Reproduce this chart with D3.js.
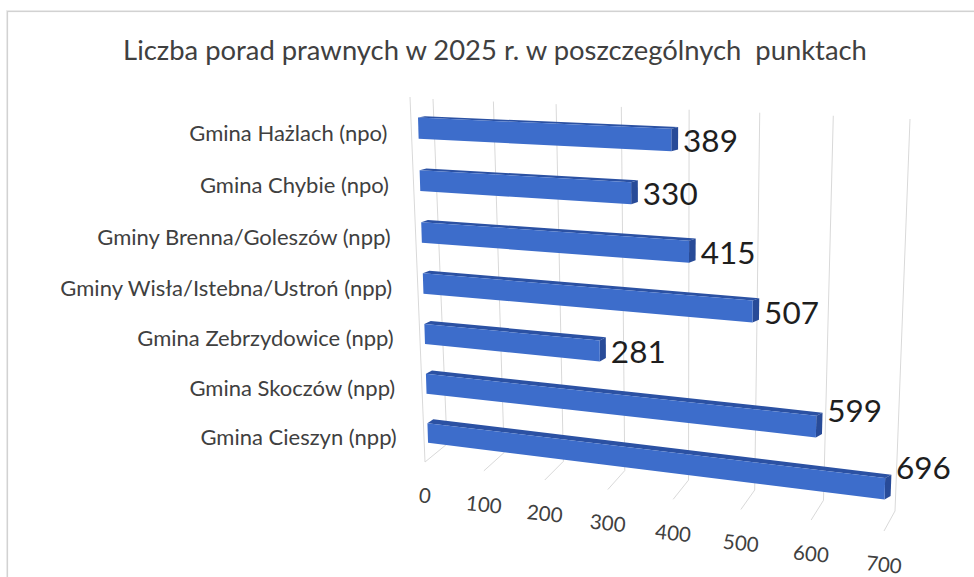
<!DOCTYPE html>
<html><head><meta charset="utf-8">
<script src="https://cdn.jsdelivr.net/npm/d3@7"></script>
<style>
html,body{margin:0;padding:0;background:#fff;}
svg{display:block;}
text{font-family:Lato,"Open Sans",sans-serif;}
</style></head><body>
<svg id="chart" width="974" height="577"></svg>
<script>
// ---- data ----
const title = "Liczba porad prawnych w 2025 r. w poszczególnych  punktach";
const categories = [
  "Gmina Hażlach (npo)",
  "Gmina Chybie (npo)",
  "Gminy Brenna/Goleszów (npp)",
  "Gminy Wisła/Istebna/Ustroń (npp)",
  "Gmina Zebrzydowice (npp)",
  "Gmina Skoczów (npp)",
  "Gmina Cieszyn (npp)"
];
const values = [389, 330, 415, 507, 281, 599, 696];
const tickValues = [0, 100, 200, 300, 400, 500, 600, 700];

// ---- 3D plot box: screen corners of the back wall, the front plane and the bars' front plane ----
const backWall  = {tl: [433, 99], tr: [910, 119], br: [895, 511], bl: [447, 444]};
const frontWall = {tl: [410, 97], tr: [898, 119], br: [884, 531], bl: [425, 462]};
const barPlane  = {tl: [417.5, 101.7], tr: [898.5, 121], br: [887, 516], bl: [428.5, 457.3]};
const barDepth = 7;   // visible thickness of the bar top / end faces, px

// projective map of the unit square onto a quadrilateral
function quadMap(q) {
  const [x0, y0] = q.tl, [x1, y1] = q.tr, [x2, y2] = q.br, [x3, y3] = q.bl;
  const dx1 = x1 - x2, dx2 = x3 - x2, dx3 = x0 - x1 + x2 - x3;
  const dy1 = y1 - y2, dy2 = y3 - y2, dy3 = y0 - y1 + y2 - y3;
  const den = dx1 * dy2 - dx2 * dy1;
  const g = (dx3 * dy2 - dx2 * dy3) / den, h = (dx1 * dy3 - dx3 * dy1) / den;
  const a = x1 - x0 + g * x1, b = x3 - x0 + h * x3, c = x0;
  const d = y1 - y0 + g * y1, e = y3 - y0 + h * y3, f = y0;
  return (u, v) => { const w = g * u + h * v + 1; return [(a * u + b * v + c) / w, (d * u + e * v + f) / w]; };
}
const mapBack = quadMap(backWall), mapFront = quadMap(frontWall), mapBar = quadMap(barPlane);

const x = d3.scaleLinear().domain([0, 700]).range([0, 1]);
const y = d3.scaleBand().domain(categories).range([0, 1]).paddingInner(0.6).paddingOuter(0.3);

// point of the box: value, vertical position (0..1), depth (0 front .. 1 back)
function P(val, v, z) {
  const f = mapFront(x(val), v), b = mapBack(x(val), v);
  return [f[0] + (b[0] - f[0]) * z, f[1] + (b[1] - f[1]) * z];
}
// point on a bar: front face (back = false) or pushed back along the depth direction
function B(val, v, back) {
  const p = mapBar(x(val), v);
  if (!back) return p;
  const q = mapBack(x(val), v), dx = q[0] - p[0], dy = q[1] - p[1], L = Math.hypot(dx, dy);
  return [p[0] + dx / L * barDepth, p[1] + dy / L * barDepth];
}
const poly = pts => "M" + pts.map(p => p[0].toFixed(2) + "," + p[1].toFixed(2)).join("L") + "Z";
const mid = c => y(c) + y.bandwidth() / 2;

const svg = d3.select("#chart");

// chart frame
svg.append("rect").attr("x", 8).attr("y", 12).attr("width", 1000).attr("height", 600)
  .attr("fill", "none").attr("stroke", "#ededed").attr("stroke-width", 4);
svg.append("rect").attr("x", 7.5).attr("y", 11.5).attr("width", 1000).attr("height", 600)
  .attr("fill", "#fff").attr("stroke", "#d2d2d2").attr("stroke-width", 1.2);

// title
svg.append("text").attr("x", 495).attr("y", 60).attr("text-anchor", "middle")
  .attr("font-size", 27.4).attr("fill", "#404040").style("white-space", "pre").text(title);

// gridlines: back wall verticals, floor diagonals, front edge of the side wall
const grid = svg.append("g").attr("stroke", "#d9d9d9").attr("stroke-width", 1).attr("fill", "none");
tickValues.forEach(t => {
  grid.append("path").attr("d", "M" + P(t, 0, 1) + "L" + P(t, 1, 1));
  grid.append("path").attr("d", "M" + P(t, 1, 1) + "L" + P(t, 1, 0));
});
grid.append("path").attr("d", "M" + P(0, 0, 0) + "L" + P(0, 1, 0));

// value axis labels along the front edge of the floor
svg.append("g").selectAll("text").data(tickValues).join("text")
  .attr("transform", d => { const p = P(d, 1, 0); return `translate(${p[0]},${p[1] + 33}) rotate(6)`; })
  .attr("text-anchor", "middle").attr("dominant-baseline", "central")
  .attr("font-size", 20.5).attr("fill", "#404040").text(d => d);

// category labels
svg.append("g").selectAll("text").data(categories).join("text")
  .attr("x", d => B(0, mid(d), false)[0] - 31)
  .attr("y", d => B(0, mid(d), false)[1] + 4)
  .attr("text-anchor", "end").attr("dominant-baseline", "central")
  .attr("font-size", 22).attr("fill", "#404040").text(d => d);

// bars: top face, end face, front face
const bars = svg.append("g");
categories.forEach((c, i) => {
  const v = values[i], v0 = y(c), v1 = y(c) + y.bandwidth();
  bars.append("path").attr("fill", "#2b51a3")
    .attr("d", poly([B(0, v0, false), B(v, v0, false), B(v, v0, true), B(0, v0, true)]));
  bars.append("path").attr("fill", "#284b98")
    .attr("d", poly([B(v, v0, false), B(v, v0, true), B(v, v1, true), B(v, v1, false)]));
  bars.append("path").attr("fill", "#3d6dcb")
    .attr("d", poly([B(0, v0, false), B(v, v0, false), B(v, v1, false), B(0, v1, false)]));
});

// value labels at the bar ends
const labelLift = [0, 0, 0, 0, 0, 17, 22];
svg.append("g").selectAll("text").data(values).join("text")
  .attr("x", (d, i) => B(d, mid(categories[i]), true)[0] + 5)
  .attr("y", (d, i) => B(d, mid(categories[i]), false)[1] - labelLift[i])
  .attr("dominant-baseline", "central")
  .attr("font-size", 31.5).attr("fill", "#1e1e1e").text(d => d);
</script>
</body></html>
